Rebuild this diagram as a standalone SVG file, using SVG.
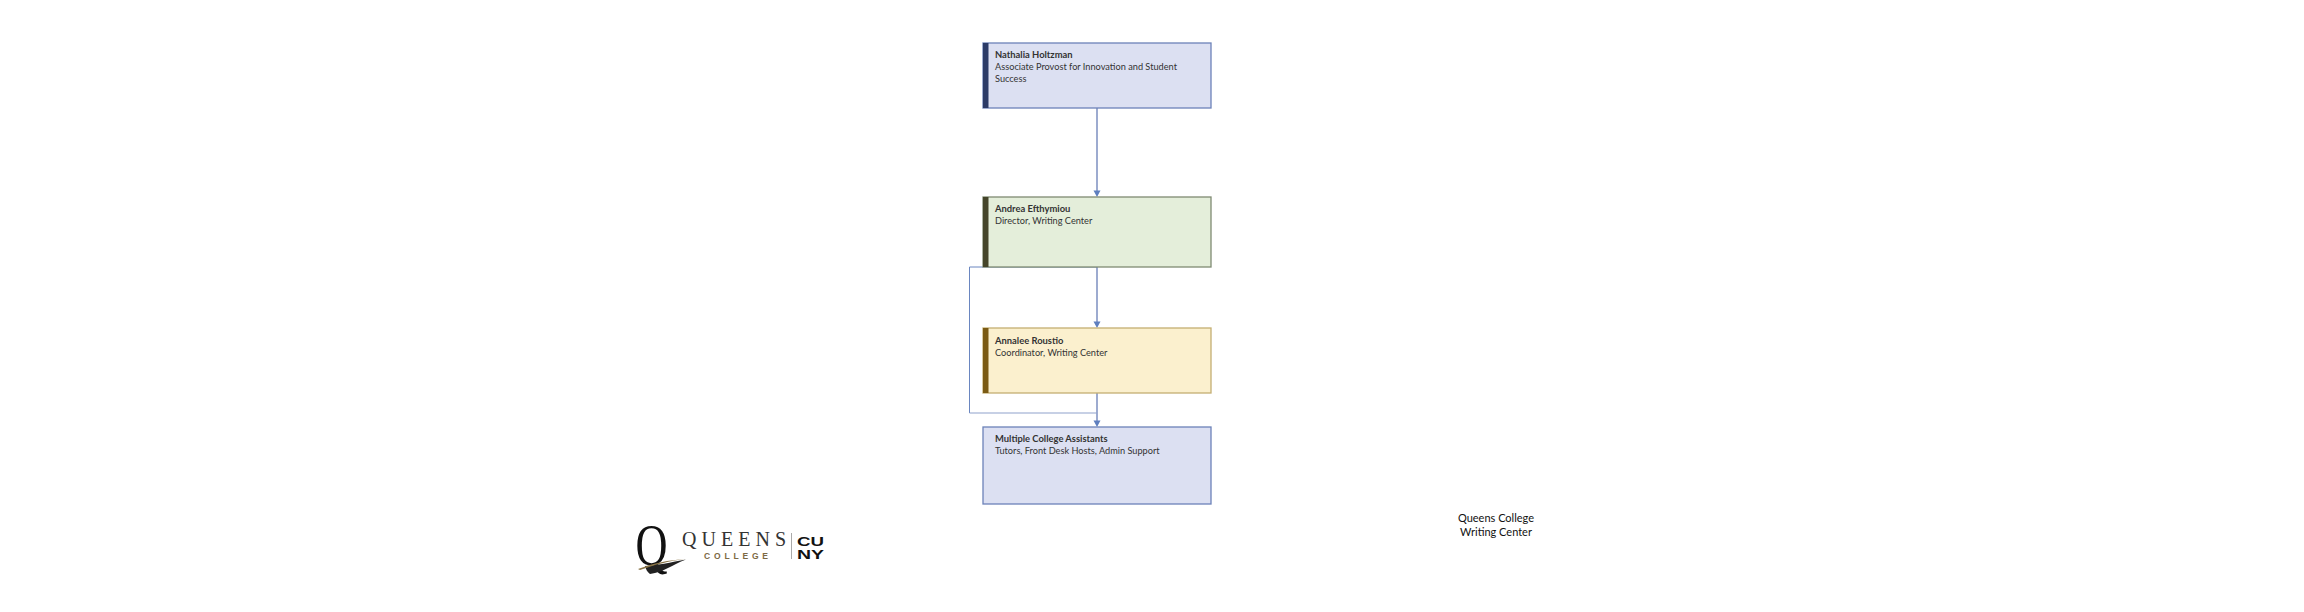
<svg xmlns="http://www.w3.org/2000/svg" width="2304" height="612" viewBox="0 0 2304 612">
<style>
text{font-family:Lato,"Open Sans",sans-serif;font-size:9.2px;fill:#333}
.n{font-weight:700;font-size:9.4px}
.box{stroke-width:1.3}
.c{fill:none;stroke:#9dabd0;stroke-width:2}
.c2{fill:none;stroke:#6a86c0;stroke-width:1}
.cap{font-size:11px;fill:#111;text-anchor:middle}
.serif{font-family:"Liberation Serif",serif}
.sans{font-family:"Liberation Sans",sans-serif;font-weight:700}
</style>
<rect width="2304" height="612" fill="#fff"/>
<g id="connectors">
<path class="c" d="M1097 108V192"/>
<path class="c" d="M1097 267V323"/>
<path class="c" d="M1097 393V422"/>
<path class="c2" d="M1097 267H969.500V413"/>
<path d="M969.500 413H1097" fill="none" stroke="#8fa2cc" stroke-width="1.200"/>
<path d="M1093.500 190.500H1100.500L1097 197Z" fill="#5f7fbf"/>
<path d="M1093.500 321.500H1100.500L1097 328Z" fill="#5f7fbf"/>
<path d="M1093.500 420.500H1100.500L1097 427Z" fill="#5f7fbf"/>
</g>
<g id="n1"><rect class="box" x="983" y="43" width="228" height="65" fill="#dce0f2" stroke="#6c82b8"/><rect x="983" y="43" width="5.500" height="65" fill="#2c3b67"/><text class="n" x="995" y="58">Nathalia Holtzman</text><text x="995" y="70">Associate Provost for Innovation and Student</text><text x="995" y="82">Success</text></g>
<g id="n2"><rect class="box" x="983" y="197" width="228" height="70" fill="#e4eeda" stroke="#7f8a72"/><rect x="983" y="197" width="5.500" height="70" fill="#45452a"/><text class="n" x="995" y="212">Andrea Efthymiou</text><text x="995" y="224">Director, Writing Center</text></g>
<g id="n3"><rect class="box" x="983" y="328" width="228" height="65" fill="#fbf0ce" stroke="#c4ae72"/><rect x="983" y="328" width="5.500" height="65" fill="#7b5b14"/><text class="n" x="995" y="344">Annalee Roustio</text><text x="995" y="356">Coordinator, Writing Center</text></g>
<g id="n4"><rect class="box" x="983" y="427" width="228" height="77" fill="#dce0f2" stroke="#6c82b8"/><text class="n" x="995" y="442">Multiple College Assistants</text><text x="995" y="454">Tutors, Front Desk Hosts, Admin Support</text></g>
<g id="logo">
<text class="serif" transform="translate(635.500 565) scale(.74 1)" style="font-size:60px;fill:#111">Q</text>
<path d="M645 566C655 566 672 562 686 559.500C672 565 664 572 650 574C647 572 646 569 645 566Z" fill="#222"/>
<path d="M638 569C654 563 668 560 686 559C668 561 654 565 640 570Z" fill="#8a7446"/>
<text class="serif" x="682" y="546" textLength="104" style="font-size:20px;fill:#333">QUEENS</text>
<text class="sans" x="704" y="559" textLength="64" style="font-size:8.500px;fill:#7d6a45">COLLEGE</text>
<path d="M791.500 533V559" stroke="#aaa" stroke-width="1"/>
<text class="sans" x="797" y="546" textLength="27" lengthAdjust="spacingAndGlyphs" style="font-size:13px;fill:#111">CU</text>
<text class="sans" x="797" y="559" textLength="27" lengthAdjust="spacingAndGlyphs" style="font-size:13px;fill:#111">NY</text>
</g>
<g id="caption"><text class="cap" x="1496" y="522">Queens College</text><text class="cap" x="1496" y="536">Writing Center</text></g>
</svg>
